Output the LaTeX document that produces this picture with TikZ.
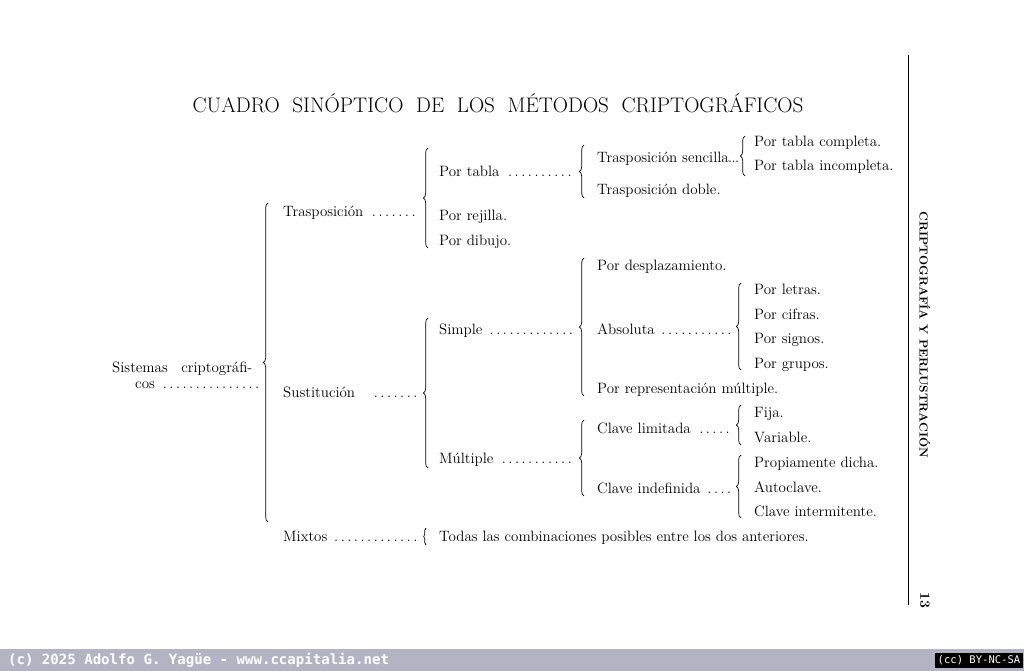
\documentclass[tikz,border=0pt]{standalone}
\usepackage{fontspec}
\newfontfamily\barfont{DejaVu Sans Mono}
\usetikzlibrary{decorations.pathreplacing}
\definecolor{barbg}{RGB}{178,180,196}

\begin{document}
\begin{tikzpicture}[
  x=0.03cm, y=-0.03cm,
  font=\fontsize{12.8}{14}\selectfont,
  item/.style={anchor=base west, inner sep=0pt},
  lead/.style={anchor=base west, inner sep=0pt, text width=#1*0.03cm},
  brc/.style={decorate, decoration={brace, amplitude=4pt}, semithick}
]
\useasboundingbox (0,0) rectangle (1024,671);
\fill[white] (0,0) rectangle (1024,671);

% title
\node[inner sep=0pt, font={\fontsize{18}{20}\selectfont\spaceskip=0.6em}] (title) at (498,103)
  {CUADRO SINÓPTICO DE LOS MÉTODOS CRIPTOGRÁFICOS};

% column 1
\node[item] (sis1) at (112,372) {Sistemas\hspace{0.9em}criptográfi-};
\node[lead=127] (sis2) at (135,388) {cos \dotfill};
\draw[brc] (268,522) -- (268,203);

% column 2
\node[lead=136] (tras) at (283,216) {Trasposición \dotfill};
\node[lead=136] (sust) at (283,397) {Sustitución\hspace{0.8em} \dotfill};
\node[lead=136] (mix) at (283,541) {Mixtos \dotfill};
\draw[brc] (428,248) -- (428,148);
\draw[brc] (428,468) -- (428,318);
\draw[brc, decoration={amplitude=2pt}] (426,545) -- (426,528);

% column 3
\node[lead=136] (ptabla) at (439,176) {Por tabla \dotfill};
\node[item] (prej) at (439,220) {Por rejilla.};
\node[item] (pdib) at (439,245) {Por dibujo.};
\node[lead=136] (simple) at (439,334) {Simple \dotfill};
\node[lead=136] (mult) at (439,463) {Múltiple \dotfill};
\node[item] (todas) at (439,541) {Todas las combinaciones posibles entre los dos anteriores.};
\draw[brc] (584,198) -- (584,145);
\draw[brc] (584,396) -- (584,258);
\draw[brc] (584,496) -- (584,420);

% column 4
\node[item] (tsen) at (597,162) {Trasposición sencilla\kern-0.5pt.\kern-0.5pt.\kern-0.5pt.};
\node[item] (tdob) at (597,194) {Trasposición doble.};
\node[item] (pdes) at (597,270) {Por desplazamiento.};
\node[lead=136] (abs) at (597,334) {Absoluta \dotfill};
\node[item] (prep) at (597,393) {Por representación múltiple.};
\node[lead=136] (clim) at (597,433) {Clave limitada \dotfill};
\node[lead=136] (cind) at (597,493) {Clave indefinida \dotfill};
\draw[brc] (745,176) -- (745,136);
\draw[brc] (741,370) -- (741,283);
\draw[brc] (741,445) -- (741,405);
\draw[brc] (741,518) -- (741,455);

% column 5
\foreach \t/\y [count=\i] in {Por tabla completa./146, Por tabla incompleta./170,
  Por letras./294, Por cifras./319, Por signos./343, Por grupos./368,
  Fija./417, Variable./442, Propiamente dicha./467, Autoclave./492,
  Clave intermitente./516}
  \node[item] (leaf\i) at (754,\y) {\t};

% page margin
\draw[semithick] (908,55) -- (908,605);
\node[rotate=-90, inner sep=0pt, font=\fontsize{10}{12}\selectfont\bfseries] (run) at (925,335)
  {CRIPTOGRAFÍA Y PERLUSTRACIÓN};
\node[rotate=-90, inner sep=0pt, font=\fontsize{12}{14}\selectfont\bfseries] (pg) at (925,600) {13};

% footer
\fill[barbg] (0,649) rectangle (1024,671);
\node[anchor=west, text=white, font=\barfont\bfseries\fontsize{12}{14}\selectfont] (cr) at (4,660)
  {(c) 2025 Adolfo G. Yagüe - www.ccapitalia.net};
\node[draw=black, fill=black, text=white, inner sep=2pt, font=\barfont\fontsize{9}{10}\selectfont] (cc) at (979,660)
  {(cc) BY-NC-SA};
\end{tikzpicture}
\end{document}
